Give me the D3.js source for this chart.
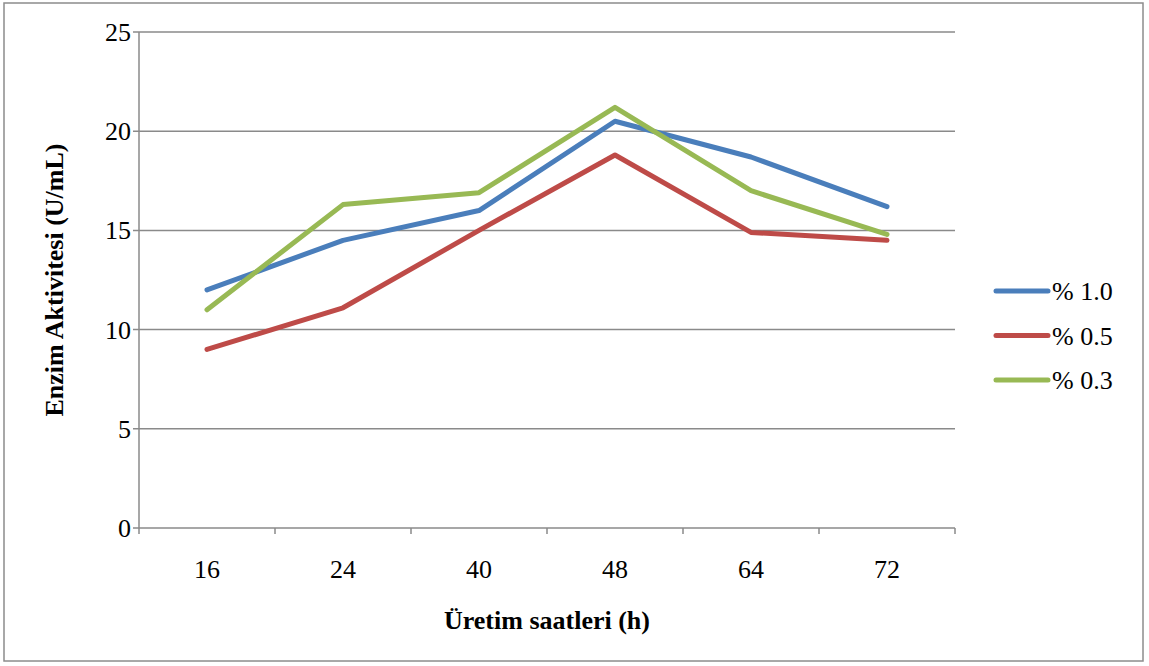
<!DOCTYPE html>
<html>
<head>
<meta charset="utf-8">
<script src="https://cdn.jsdelivr.net/npm/d3@7"></script>
<style>
  body { margin: 0; background: #fff; }
  svg { font-family: "Liberation Serif", "Times New Roman", serif; }
</style>
</head>
<body>
<svg id="chart"></svg>
<script>
const hours = ["16", "24", "40", "48", "64", "72"];
const yTicks = [0, 5, 10, 15, 20, 25];
const seriesNames = ["% 1.0", "% 0.5", "% 0.3"];
const pct10 = [12.0, 14.5, 16.0, 20.5, 18.7, 16.2];
const pct05 = [9.0, 11.1, 15.0, 18.8, 14.9, 14.5];
const pct03 = [11.0, 16.3, 16.9, 21.2, 17.0, 14.8];
const colors = ["#4a7ebb", "#be4b48", "#98b954"];

const size = { width: 1149, height: 666 };
const margin = { left: 139, right: 194, top: 32, bottom: 138 };

const svg = d3.select("#chart")
  .attr("width", size.width)
  .attr("height", size.height);

// outer frame
svg.append("rect")
  .attr("x", 4).attr("y", 3)
  .attr("width", 1139).attr("height", 658)
  .attr("fill", "none")
  .attr("stroke", "#8c8c8c")
  .attr("stroke-width", 1.5);

const x = d3.scaleBand()
  .domain(hours)
  .range([margin.left, size.width - margin.right]);

const y = d3.scaleLinear()
  .domain([0, 25])
  .range([size.height - margin.bottom, margin.top]);

// gridlines
yTicks.forEach((v) => {
  svg.append("line")
    .attr("x1", margin.left - 6)
    .attr("x2", size.width - margin.right)
    .attr("y1", y(v))
    .attr("y2", y(v))
    .attr("stroke", "#8a8a8a")
    .attr("stroke-width", 1.5);

  svg.append("text")
    .text(v)
    .attr("x", margin.left - 8)
    .attr("y", y(v) + 9)
    .attr("text-anchor", "end")
    .attr("font-size", 26);
});

// y axis line
svg.append("line")
  .attr("x1", margin.left).attr("x2", margin.left)
  .attr("y1", y(25)).attr("y2", y(0) + 6)
  .attr("stroke", "#8a8a8a")
  .attr("stroke-width", 1.5);

// x tick marks at category boundaries
const bounds = hours.map((h) => x(h)).concat([x(hours[hours.length - 1]) + x.bandwidth()]);
bounds.slice(1).forEach((bx) => {
  svg.append("line")
    .attr("x1", bx).attr("x2", bx)
    .attr("y1", y(0)).attr("y2", y(0) + 6)
    .attr("stroke", "#8a8a8a")
    .attr("stroke-width", 1.5);
});

hours.forEach((h) => {
  svg.append("text")
    .text(h)
    .attr("x", x(h) + x.bandwidth() / 2)
    .attr("y", 578)
    .attr("text-anchor", "middle")
    .attr("font-size", 26);
});

// axis titles
svg.append("text")
  .text("Üretim saatleri (h)")
  .attr("x", x("40") + x.bandwidth())
  .attr("y", 629)
  .attr("text-anchor", "middle")
  .attr("font-size", 26)
  .attr("font-weight", "bold");

svg.append("text")
  .text("Enzim Aktivitesi (U/mL)")
  .attr("transform", `translate(63, ${(y(0) + y(25)) / 2}) rotate(-90)`)
  .attr("text-anchor", "middle")
  .attr("font-size", 26)
  .attr("font-weight", "bold");

// lines
const line = d3.line()
  .x((d, i) => x(hours[i]) + x.bandwidth() / 2)
  .y((d) => y(d));

[pct10, pct05, pct03].forEach((vals, i) => {
  svg.append("path")
    .datum(vals)
    .attr("d", line)
    .attr("fill", "none")
    .attr("stroke", colors[i])
    .attr("stroke-width", 5)
    .attr("stroke-linejoin", "round")
    .attr("stroke-linecap", "round");
});

// legend
const legend = svg.append("g");
seriesNames.forEach((name, i) => {
  const ly = 291 + i * 44.5;
  legend.append("line")
    .attr("x1", 996).attr("x2", 1048)
    .attr("y1", ly).attr("y2", ly)
    .attr("stroke", colors[i])
    .attr("stroke-width", 5)
    .attr("stroke-linecap", "round");
  legend.append("text")
    .text(name)
    .attr("x", 1052)
    .attr("y", ly + 9)
    .attr("font-size", 26);
});
</script>
</body>
</html>
